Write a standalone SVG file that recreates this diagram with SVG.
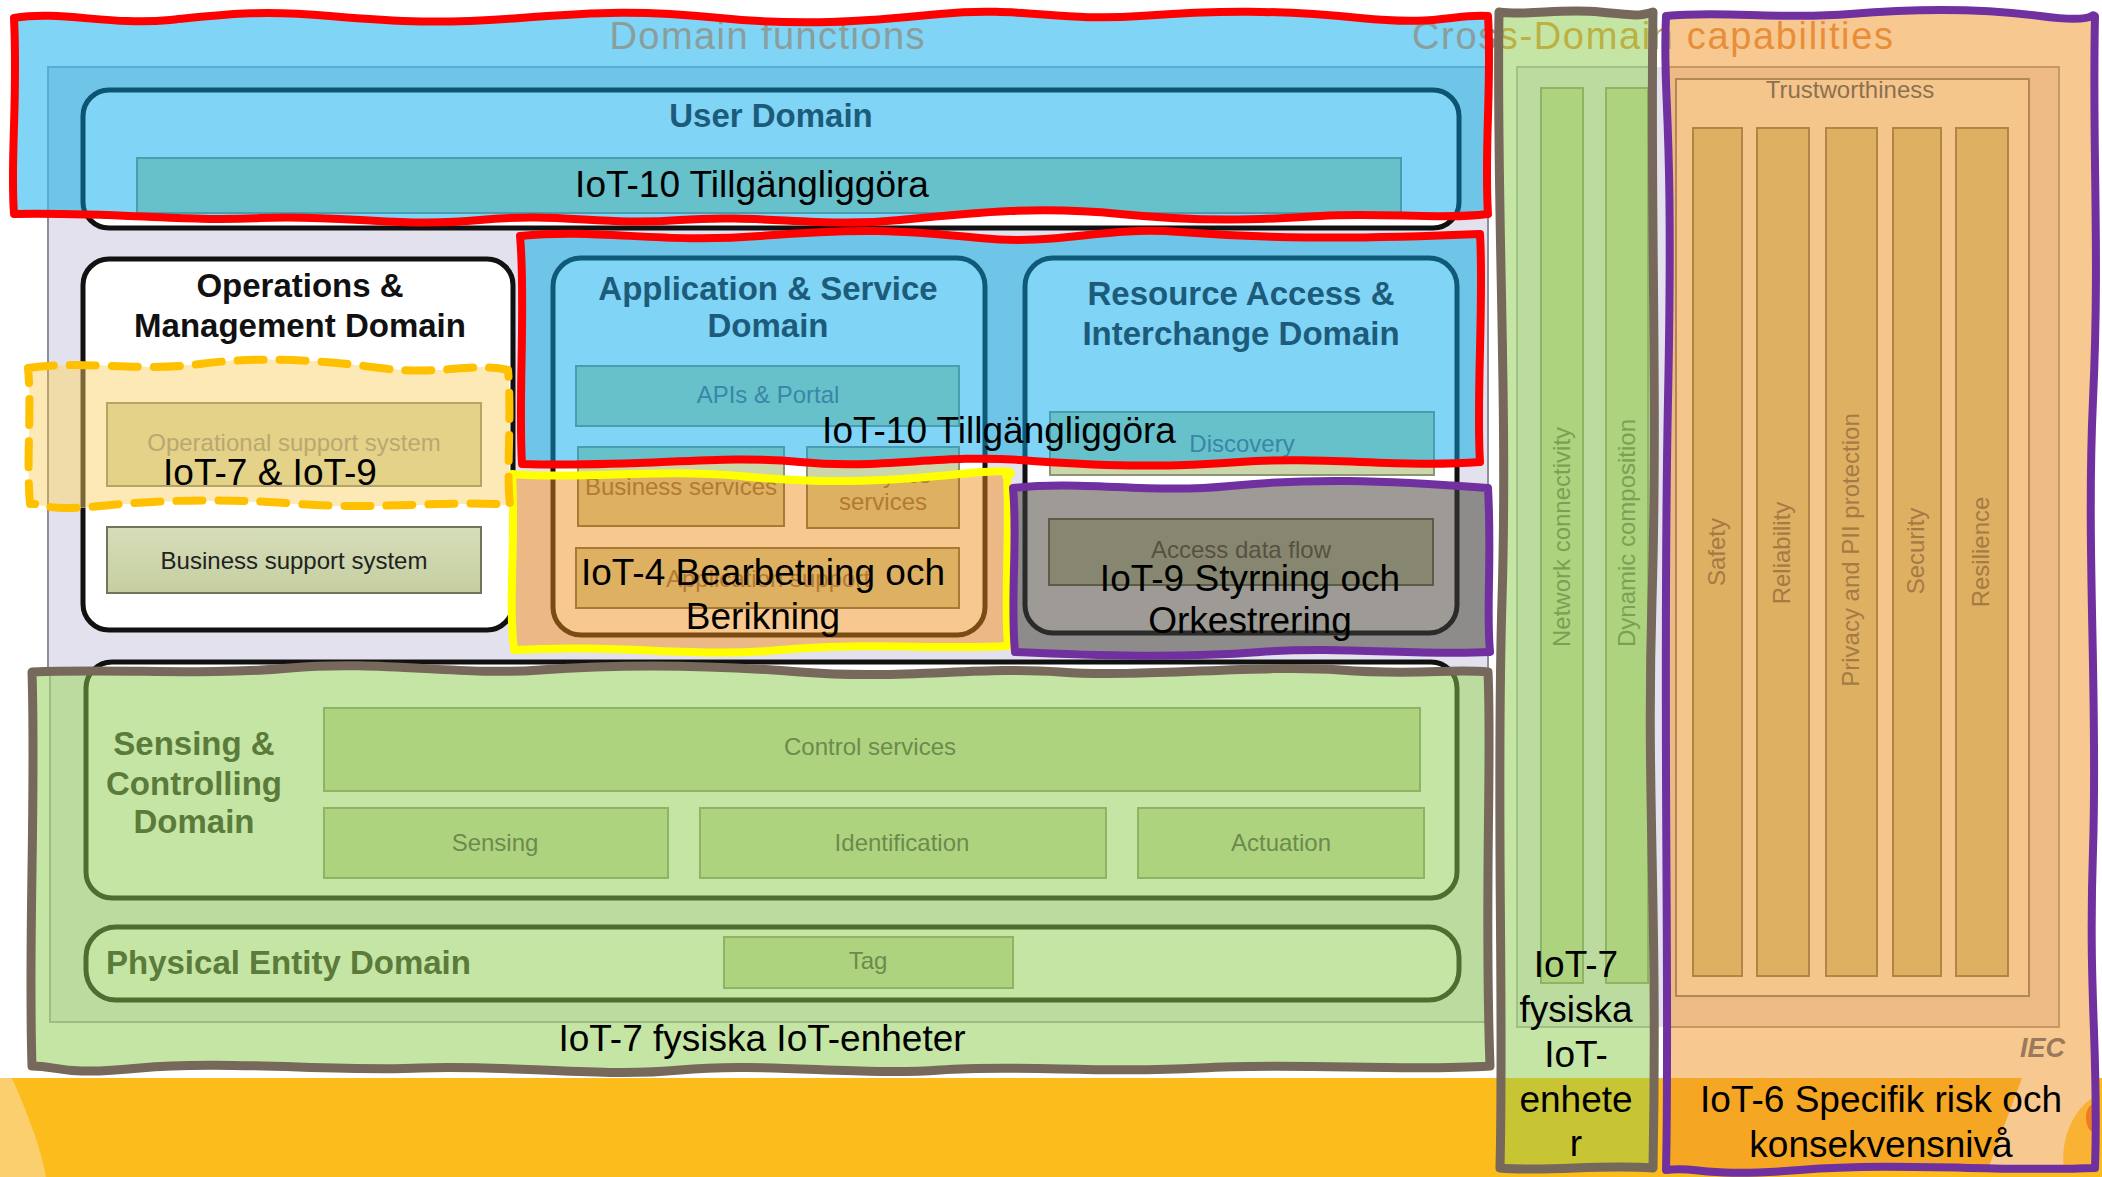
<svg xmlns="http://www.w3.org/2000/svg" width="2102" height="1177" viewBox="0 0 2102 1177">
<style>
text{font-family:"Liberation Sans",Arial,sans-serif}
.lbl{font-size:37px;fill:#000;text-anchor:middle}
.dt{font-size:33px;font-weight:bold;text-anchor:middle}
.bx{font-size:24px;text-anchor:middle}
.ann{fill:none;stroke-width:8;stroke-linejoin:round;stroke-linecap:round}
.red{stroke:#FF0000}
.yel{stroke:#FFFF00}
.pur{stroke:#7030A0}
.brn{stroke:#76685A;stroke-width:9}
.dash{stroke:#FFC000;stroke-dasharray:26 16}
.tealbox{fill:#66C1CB;stroke:#4A9DB0;stroke-width:2}
.orbox{fill:#DDB062;stroke:#A87A35;stroke-width:2}
.grbox{fill:#AED37E;stroke:#8CB463;stroke-width:2}
.capbar{fill:#DDB062;stroke:#B08545;stroke-width:2}
.basebox{fill:#CBD6AB;stroke:#8E9574;stroke-width:2}
</style>
<defs>
<linearGradient id="gBss" x1="0" y1="0" x2="0" y2="1"><stop offset="0" stop-color="#D6DDBA"/><stop offset="1" stop-color="#C6CEA0"/></linearGradient>
<path id="pR1" d="M14,18 C60,10 110,26 170,20 S260,10 330,16 S440,24 520,18 S640,10 720,18 S860,22 940,14 S1060,22 1140,16 S1280,10 1360,18 S1450,14 1488,16 C1492,80 1484,150 1488,214 C1440,220 1380,212 1320,216 S1200,222 1120,214 S980,212 900,220 S760,214 680,220 S560,212 480,220 S340,214 260,218 S120,212 14,214 C10,160 18,100 14,18 Z"/>
<path id="pR2" d="M520,236 C600,228 660,244 760,236 S900,230 980,238 S1100,226 1180,232 S1340,240 1480,234 C1484,300 1476,400 1480,462 C1400,468 1320,456 1240,462 S1100,466 1020,460 S880,470 800,462 S640,468 522,464 C518,400 526,300 520,236 Z"/>
<path id="pY" d="M512,474 C580,480 660,468 740,476 S880,482 960,474 S1000,478 1007,476 C1010,540 1004,600 1008,646 C940,650 860,642 780,650 S620,644 514,650 C508,600 516,540 512,474 Z"/>
<path id="pP1" d="M1013,488 C1080,480 1150,494 1230,486 S1380,480 1488,488 C1492,560 1486,610 1490,652 C1420,656 1340,646 1260,652 S1100,656 1015,652 C1010,600 1018,540 1013,488 Z"/>
<path id="pD" d="M28,368 C80,360 140,372 200,364 S320,360 380,368 S470,362 508,370 C512,420 506,470 510,505 C450,500 380,510 300,504 S160,500 100,506 S40,502 30,504 C26,460 32,410 28,368 Z"/>
<path id="pB1" d="M32,672 C120,668 200,676 290,668 S460,676 540,670 S700,664 800,672 S980,666 1060,672 S1260,664 1340,670 S1450,668 1488,672 C1492,760 1484,900 1490,1066 C1400,1072 1300,1062 1200,1068 S1020,1064 940,1070 S760,1062 680,1070 S500,1064 420,1068 S220,1060 140,1068 S60,1066 32,1066 C28,940 36,800 32,672 Z"/>
<path id="pB2" d="M1499,12 C1530,16 1560,8 1600,12 S1640,16 1653,12 C1650,200 1658,400 1652,600 S1658,900 1653,1168 C1600,1164 1550,1172 1500,1168 C1504,1000 1496,800 1502,600 S1496,200 1499,12 Z"/>
<path id="pP2" d="M1666,16 C1720,10 1780,20 1850,14 S1980,8 2040,16 S2090,12 2095,16 C2092,150 2100,250 2093,400 S2098,700 2093,850 S2099,1050 2095,1168 C2000,1172 1900,1162 1800,1170 S1700,1166 1666,1170 C1670,1000 1662,700 1668,400 S1662,100 1666,16 Z"/>
<clipPath id="cR1"><use href="#pR1"/></clipPath>
<clipPath id="cR2"><use href="#pR2"/></clipPath>
<clipPath id="cY"><use href="#pY"/></clipPath>
<clipPath id="cP1"><use href="#pP1"/></clipPath>
<clipPath id="cD"><use href="#pD"/></clipPath>
<clipPath id="cB1"><use href="#pB1"/></clipPath>
<clipPath id="cB2"><use href="#pB2"/></clipPath>
<clipPath id="cP2"><use href="#pP2"/></clipPath>
</defs>
<rect width="2102" height="1177" fill="#fff"/>
<g id="base">
<rect x="48" y="67" width="1440" height="955" fill="#E4E1EE" stroke="#8E8E9E" stroke-width="2"/>
<rect x="1500" y="67" width="170" height="960" fill="#E4E1EE"/>
<rect x="0" y="1078" width="2102" height="99" fill="#FBBC1C"/>
<path d="M0,1078 L12,1078 C28,1115 40,1145 46,1177 L0,1177 Z" fill="#FCCF6E"/>
</g>
<g id="user-domain-base"><rect x="83" y="90" width="1376" height="138" rx="26" fill="#fff" stroke="#111" stroke-width="5"/></g>
<g id="om-domain">
<rect x="83" y="259" width="430" height="371" rx="26" fill="#fff" stroke="#111" stroke-width="5"/>
<text class="dt" x="300" y="297" fill="#111">Operations &amp;</text>
<text class="dt" x="300" y="337" fill="#111">Management Domain</text>
<rect x="107" y="527" width="374" height="66" fill="url(#gBss)" stroke="#6F765A" stroke-width="2"/>
<text class="bx" x="294" y="569" fill="#222">Business support system</text>
</g>
<g id="app-domain-base">
<rect x="553" y="258" width="432" height="377" rx="28" fill="#fff" stroke="#111" stroke-width="5"/>
<rect x="578" y="447" width="206" height="79" class="basebox"/>
<rect x="807" y="447" width="152" height="81" class="basebox"/>
</g>
<g id="resource-domain-base">
<rect x="1025" y="258" width="432" height="375" rx="28" fill="#fff" stroke="#111" stroke-width="5"/>
<rect x="1050" y="412" width="384" height="63" class="basebox"/>
</g>
<g id="sensing-base"><rect x="86" y="662" width="1371" height="236" rx="26" fill="#fff" stroke="#111" stroke-width="5"/></g>

<g id="iot10-user" clip-path="url(#cR1)">
<rect x="0" y="0" width="1500" height="240" fill="#80D4F5"/>
<rect x="48" y="67" width="1440" height="200" fill="#6EC5E8" stroke="#58ADD0" stroke-width="2"/>
<rect x="83" y="90" width="1376" height="138" rx="26" fill="#80D4F5" stroke="#0B5573" stroke-width="5"/>
<rect x="137" y="158" width="1264" height="55" class="tealbox"/>
<text x="767" y="49" font-size="38" text-anchor="middle" textLength="315" fill="#8A9E9C">Domain functions</text>
<text class="dt" x="771" y="127" fill="#1D5B7B">User Domain</text>
</g>
<g id="iot10-app-resource" clip-path="url(#cR2)">
<rect x="500" y="220" width="1000" height="260" fill="#6EC5E8"/>
<rect x="553" y="258" width="432" height="377" rx="28" fill="#80D4F5" stroke="#0F5A78" stroke-width="5"/>
<rect x="1025" y="258" width="432" height="375" rx="28" fill="#80D4F5" stroke="#0F5A78" stroke-width="5"/>
<rect x="576" y="366" width="383" height="60" class="tealbox"/>
<rect x="578" y="447" width="206" height="79" class="tealbox"/>
<rect x="807" y="447" width="152" height="81" class="tealbox"/>
<rect x="1050" y="412" width="384" height="63" class="tealbox"/>
<text class="dt" x="768" y="300" fill="#1D5B7B">Application &amp; Service</text>
<text class="dt" x="768" y="337" fill="#1D5B7B">Domain</text>
<text class="dt" x="1241" y="305" fill="#1D5B7B">Resource Access &amp;</text>
<text class="dt" x="1241" y="345" fill="#1D5B7B">Interchange Domain</text>
<text class="bx" x="768" y="403" fill="#3A86A6">APIs &amp; Portal</text>
<text class="bx" x="1242" y="452" fill="#3A86A6">Discovery</text>
</g>
<g id="iot4-app" clip-path="url(#cY)">
<rect x="500" y="460" width="520" height="200" fill="#EBB886"/>
<rect x="553" y="258" width="432" height="377" rx="28" fill="#F7C990" stroke="#7A4C14" stroke-width="5"/>
<rect x="578" y="447" width="206" height="79" class="orbox"/>
<rect x="807" y="447" width="152" height="81" class="orbox"/>
<rect x="576" y="548" width="383" height="60" class="orbox"/>
<text class="bx" x="681" y="495" fill="#B27B32">Business services</text>
<text class="bx" x="883" y="483" fill="#B27B32">Analytics</text>
<text class="bx" x="883" y="510" fill="#B27B32">services</text>
<text class="bx" x="768" y="587" fill="#B27B32">Application support</text>
</g>
<g id="iot9-resource" clip-path="url(#cP1)">
<rect x="1000" y="470" width="500" height="200" fill="#8E8B8B"/>
<rect x="1025" y="258" width="432" height="375" rx="28" fill="#9E9A95" stroke="#2B2B2B" stroke-width="5"/>
<rect x="1049" y="519" width="384" height="66" fill="#878771" stroke="#5B5B47" stroke-width="2"/>
<text class="bx" x="1241" y="558" fill="#57513F">Access data flow</text>
</g>
<g id="iot7-iot9-oss" clip-path="url(#cD)">
<rect x="0" y="350" width="520" height="170" fill="#FDE9B5"/>
<rect x="48" y="67" width="1440" height="955" fill="#F0DCA8" stroke="#B8A070" stroke-width="2"/>
<rect x="83" y="259" width="430" height="371" rx="26" fill="#FDE9B5" stroke="#7A6838" stroke-width="5"/>
<rect x="107" y="403" width="374" height="83" fill="#E3D288" stroke="#B5A565" stroke-width="2"/>
<text class="bx" x="294" y="451" fill="#B9A872">Operational support system</text>
</g>
<g id="iot7-devices" clip-path="url(#cB1)">
<rect x="0" y="640" width="1510" height="450" fill="#C5E5A5"/>
<rect x="50" y="600" width="1438" height="422" fill="#BCDB9F" stroke="#9DBE81" stroke-width="2"/>
<g id="sensing-domain">
<rect x="86" y="662" width="1371" height="236" rx="26" fill="#C5E5A5" stroke="#4D6E30" stroke-width="5"/>
<text class="dt" x="194" y="755" fill="#5B7B3B">Sensing &amp;</text>
<text class="dt" x="194" y="795" fill="#5B7B3B">Controlling</text>
<text class="dt" x="194" y="833" fill="#5B7B3B">Domain</text>
<rect x="324" y="708" width="1096" height="83" class="grbox"/>
<text class="bx" x="870" y="755" fill="#6B8B4D">Control services</text>
<rect x="324" y="808" width="344" height="70" class="grbox"/>
<text class="bx" x="495" y="851" fill="#6B8B4D">Sensing</text>
<rect x="700" y="808" width="406" height="70" class="grbox"/>
<text class="bx" x="902" y="851" fill="#6B8B4D">Identification</text>
<rect x="1138" y="808" width="286" height="70" class="grbox"/>
<text class="bx" x="1281" y="851" fill="#6B8B4D">Actuation</text>
</g>
<g id="physical-domain">
<rect x="86" y="927" width="1373" height="73" rx="30" fill="#C5E5A5" stroke="#4D6E30" stroke-width="5"/>
<text x="106" y="974" font-size="33" font-weight="bold" fill="#5B7B3B">Physical Entity Domain</text>
<rect x="724" y="937" width="289" height="51" class="grbox"/>
<text class="bx" x="868" y="969" fill="#6B8B4D">Tag</text>
</g>
</g>
<g id="cross-domain" clip-path="url(#cB2)">
<rect x="1480" y="0" width="190" height="1078" fill="#C5E5A5"/>
<rect x="1480" y="1078" width="190" height="99" fill="#C8C535"/>
<rect x="1517" y="67" width="150" height="960" fill="#BCDB9F" stroke="#A0C184" stroke-width="2"/>
<rect x="1541" y="88" width="42" height="895" class="grbox"/>
<rect x="1606" y="88" width="42" height="895" class="grbox"/>
<text class="bx" transform="translate(1562,537) rotate(-90)" x="0" y="8" fill="#79A152">Network connectivity</text>
<text class="bx" transform="translate(1627,533) rotate(-90)" x="0" y="8" fill="#79A152">Dynamic composition</text>
</g>
<g id="capabilities" clip-path="url(#cP2)">
<rect x="1650" y="0" width="452" height="1177" fill="#F7C990"/>
<path d="M1650,1078 L2022,1078 L1985,1177 L1650,1177 Z" fill="#F5A623"/>
<path d="M2064,1170 C2060,1140 2072,1112 2092,1098 L2102,1094 L2102,1170 Z" fill="#F9B233"/>
<ellipse cx="2094" cy="1118" rx="8" ry="14" fill="#EE7A22"/>
<rect x="1669" y="67" width="390" height="960" fill="#EDB985" stroke="#C79862" stroke-width="2"/>
<rect x="1676" y="79" width="353" height="917" fill="#F5C68C" stroke="#B48755" stroke-width="2"/>
<text class="bx" x="1850" y="98" fill="#8C7050">Trustworthiness</text>
<rect x="1693" y="128" width="49" height="848" class="capbar"/>
<rect x="1757" y="128" width="52" height="848" class="capbar"/>
<rect x="1826" y="128" width="51" height="848" class="capbar"/>
<rect x="1893" y="128" width="48" height="848" class="capbar"/>
<rect x="1956" y="128" width="52" height="848" class="capbar"/>
<text class="bx" transform="translate(1717,552) rotate(-90)" x="0" y="8" fill="#A57A45">Safety</text>
<text class="bx" transform="translate(1782,553) rotate(-90)" x="0" y="8" fill="#A57A45">Reliability</text>
<text class="bx" transform="translate(1851,550) rotate(-90)" x="0" y="8" fill="#A57A45">Privacy and PII protection</text>
<text class="bx" transform="translate(1916,551) rotate(-90)" x="0" y="8" fill="#A57A45">Security</text>
<text class="bx" transform="translate(1981,552) rotate(-90)" x="0" y="8" fill="#A57A45">Resilience</text>
<text x="2065" y="1057" text-anchor="end" font-size="27" font-weight="bold" font-style="italic" fill="#9A7A5A">IEC</text>
</g>
<g id="titles">
<text x="1412" y="49" font-size="38" textLength="481"><tspan fill="#8A9E9C">Cros</tspan><tspan fill="#BDB043">s-Domain </tspan><tspan fill="#E98E38">capabilities</tspan></text>
</g>
<g id="connectors"/>
<g id="outlines">
<use href="#pB1" class="ann brn"/>
<use href="#pB2" class="ann brn"/>
<use href="#pR1" class="ann red"/>
<use href="#pR2" class="ann red"/>
<use href="#pY" class="ann yel"/>
<use href="#pP1" class="ann pur"/>
<use href="#pP2" class="ann pur"/>
<use href="#pD" class="ann dash"/>
</g>
<g id="labels">
<text class="lbl" x="752" y="197">IoT-10 Tillgängliggöra</text>
<text class="lbl" x="999" y="443">IoT-10 Tillgängliggöra</text>
<text class="lbl" x="270" y="485">IoT-7 &amp; IoT-9</text>
<text class="lbl" x="763" y="585">IoT-4 Bearbetning och</text>
<text class="lbl" x="763" y="629">Berikning</text>
<text class="lbl" x="1250" y="591">IoT-9 Styrning och</text>
<text class="lbl" x="1250" y="633">Orkestrering</text>
<text class="lbl" x="762" y="1051">IoT-7 fysiska IoT-enheter</text>
<text class="lbl" x="1576" y="977">IoT-7</text>
<text class="lbl" x="1576" y="1022">fysiska</text>
<text class="lbl" x="1576" y="1067">IoT-</text>
<text class="lbl" x="1576" y="1112">enhete</text>
<text class="lbl" x="1576" y="1156">r</text>
<text class="lbl" x="1881" y="1112">IoT-6 Specifik risk och</text>
<text class="lbl" x="1881" y="1157">konsekvensnivå</text>
</g>
</svg>
